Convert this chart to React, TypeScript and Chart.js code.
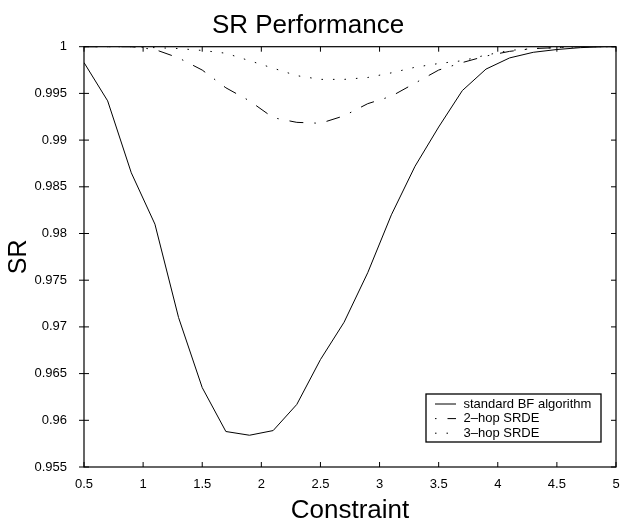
import React, { useEffect, useRef } from "react";
import { Chart, registerables } from "chart.js";

Chart.register(...registerables);

const constraint = [0.5, 0.7, 0.9, 1.1, 1.3, 1.5, 1.7, 1.9, 2.1, 2.3, 2.5, 2.7, 2.9, 3.1, 3.3, 3.5, 3.7, 3.9, 4.1, 4.3, 4.5, 4.7, 4.9, 5.0];
const standardBF = [0.9983, 0.9942, 0.9865, 0.981, 0.971, 0.9635, 0.9588, 0.9584, 0.9589, 0.9617, 0.9665, 0.9705, 0.9758, 0.982, 0.9872, 0.9914, 0.9953, 0.9976, 0.9988, 0.9994, 0.9997, 0.9999, 1.0, 1.0];
const hop2 = [1.0, 1.0, 1.0, 0.9997, 0.9988, 0.9975, 0.9956, 0.9942, 0.9924, 0.9919, 0.9918, 0.9926, 0.9939, 0.9947, 0.9961, 0.9975, 0.9983, 0.999, 0.9995, 0.9998, 0.9999, 1.0, 1.0, 1.0];
const hop3 = [1.0, 1.0, 1.0, 0.9999, 0.9998, 0.9996, 0.9993, 0.9985, 0.9977, 0.9969, 0.9965, 0.9965, 0.9967, 0.9972, 0.9978, 0.9982, 0.9985, 0.9991, 0.9996, 0.9998, 0.9999, 1.0, 1.0, 1.0];

const seriesNames = ["standard BF algorithm", "2\u2013hop SRDE", "3\u2013hop SRDE"];
const xTicks = [0.5, 1, 1.5, 2, 2.5, 3, 3.5, 4, 4.5, 5];
const yTicks = [0.955, 0.96, 0.965, 0.97, 0.975, 0.98, 0.985, 0.99, 0.995, 1];

const FONT = "'Liberation Sans', Arial, Helvetica, sans-serif";
const DASH_2HOP = [14, 11, 1.5, 11];
const DASH_3HOP = [1.5, 10];

const fmt = (v: number) => String(parseFloat(Number(v).toFixed(4)));

const framePlugin = {
  id: "frame",
  afterDatasetsDraw(chart: any) {
    const { ctx, chartArea: a, scales } = chart;
    const xs = scales.x;
    const ys = scales.y;
    ctx.save();
    ctx.strokeStyle = "#000";
    ctx.lineWidth = 1.2;
    ctx.setLineDash([]);
    ctx.strokeRect(a.left, a.top, a.right - a.left, a.bottom - a.top);
    ctx.lineWidth = 1;
    const tl = 5;
    ctx.beginPath();
    xTicks.forEach((t) => {
      const px = xs.getPixelForValue(t);
      ctx.moveTo(px, a.bottom);
      ctx.lineTo(px, a.bottom - tl);
      ctx.moveTo(px, a.top);
      ctx.lineTo(px, a.top + tl);
    });
    yTicks.forEach((t) => {
      const py = ys.getPixelForValue(t);
      ctx.moveTo(a.left - 5, py);
      ctx.lineTo(a.left + tl, py);
      ctx.moveTo(a.right, py);
      ctx.lineTo(a.right - tl, py);
    });
    ctx.stroke();

    // legend
    const bw = 175;
    const bh = 48;
    const bx = a.right - 15 - bw;
    const by = a.bottom - 25 - bh;
    ctx.fillStyle = "#fff";
    ctx.fillRect(bx, by, bw, bh);
    ctx.lineWidth = 1.3;
    ctx.strokeRect(bx, by, bw, bh);
    const dashes = [[], DASH_2HOP, DASH_3HOP];
    const offsets = [0, 25, 0];
    ctx.font = "13px " + FONT;
    ctx.textBaseline = "middle";
    ctx.textAlign = "left";
    ctx.fillStyle = "#000";
    seriesNames.forEach((name, i) => {
      const cy = by + 10 + i * 14.6;
      ctx.lineWidth = 1;
      ctx.setLineDash(dashes[i]);
      ctx.lineDashOffset = offsets[i];
      ctx.beginPath();
      ctx.moveTo(bx + 9, cy);
      ctx.lineTo(bx + 30, cy);
      ctx.stroke();
      ctx.setLineDash([]);
      ctx.fillText(name, bx + 37.5, cy);
    });
    ctx.restore();
  },
};

export default function App() {
  const ref = useRef<HTMLCanvasElement | null>(null);
  useEffect(() => {
    if (!ref.current) return;
    const mk = (vals: number[]) => constraint.map((x, i) => ({ x, y: vals[i] }));
    const chart = new Chart(ref.current, {
      type: "line",
      data: {
        datasets: [
          { label: seriesNames[0], data: mk(standardBF), borderColor: "#000", borderWidth: 1, pointRadius: 0, tension: 0 },
          { label: seriesNames[1], data: mk(hop2), borderColor: "#000", borderWidth: 1, pointRadius: 0, borderDash: DASH_2HOP, tension: 0 },
          { label: seriesNames[2], data: mk(hop3), borderColor: "#000", borderWidth: 1, pointRadius: 0, borderDash: DASH_3HOP, tension: 0 },
        ],
      },
      options: {
        responsive: false,
        animation: false,
        layout: { padding: { left: 0, right: 8, top: 0, bottom: 0 } },
        plugins: {
          legend: { display: false },
          tooltip: { enabled: false },
          title: {
            display: true,
            text: "SR Performance",
            color: "#000",
            font: { family: FONT, size: 26, weight: "normal", lineHeight: 1.2 },
            padding: { top: 10, bottom: 5.5 },
          },
        },
        scales: {
          x: {
            type: "linear",
            min: 0.5,
            max: 5,
            afterBuildTicks: (s: any) => { s.ticks = xTicks.map((v) => ({ value: v })); },
            afterFit: (s: any) => { s.height = 57; s.paddingLeft = 0; s.paddingRight = 0; },
            grid: { display: false, drawTicks: false },
            border: { display: false },
            ticks: { color: "#000", padding: 10, maxRotation: 0, autoSkip: false, font: { family: FONT, size: 13 }, callback: (v: any) => fmt(v) },
            title: { display: true, text: "Constraint", color: "#000", font: { family: FONT, size: 26, lineHeight: 1 }, padding: { top: 0, bottom: 0 } },
          },
          y: {
            type: "linear",
            min: 0.955,
            max: 1,
            afterBuildTicks: (s: any) => { s.ticks = yTicks.map((v) => ({ value: v })); },
            afterFit: (s: any) => { s.width = 84; s.paddingTop = 0; s.paddingBottom = 0; },
            grid: { display: false, drawTicks: false },
            border: { display: false },
            ticks: { color: "#000", padding: 17, autoSkip: false, font: { family: FONT, size: 13 }, callback: (v: any) => fmt(v) },
            title: { display: true, text: "SR", color: "#000", font: { family: FONT, size: 25, lineHeight: 1 }, padding: { top: 6.5, bottom: 0 } },
          },
        },
      },
      plugins: [framePlugin],
    } as any);
    return () => chart.destroy();
  }, []);
  return (
    <div style={{ position: "fixed", left: 0, top: 0, width: 624, height: 524, background: "#fff" }}>
      <canvas ref={ref} width={624} height={524} style={{ display: "block" }} />
    </div>
  );
}
